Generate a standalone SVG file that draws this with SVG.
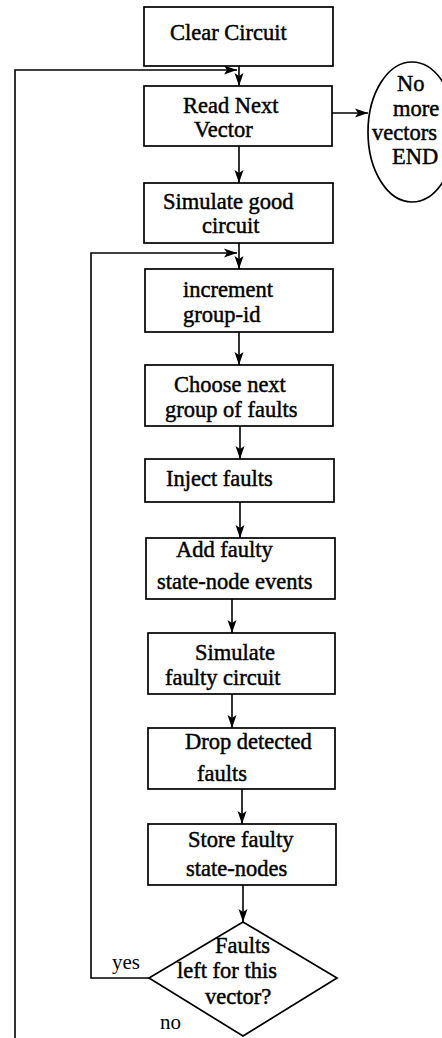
<svg xmlns="http://www.w3.org/2000/svg" width="442" height="1038" viewBox="0 0 442 1038">
<style>
.box{fill:#fff;stroke:#000;stroke-width:1.7}
.ln{fill:none;stroke:#000;stroke-width:1.6}
.t{font-family:"Liberation Serif","Times New Roman",serif;font-size:22.5px;fill:#000;stroke:#000;stroke-width:0.45}
.l{font-family:"Liberation Serif","Times New Roman",serif;font-size:21px;fill:#000}
</style>
<defs>
<marker id="ah" markerWidth="14" markerHeight="10" refX="13" refY="5" orient="auto" markerUnits="userSpaceOnUse">
<path d="M0,0.5 L13,5 L0,9.5 L3,5 Z" fill="#000"/>
</marker>
</defs>
<rect width="442" height="1038" fill="#fff"/>
<g id="connectors">
<line class="ln" x1="239" y1="66" x2="239" y2="86" marker-end="url(#ah)"/>
<polyline class="ln" points="15,1038 15,70 237,70" marker-end="url(#ah)"/>
<line class="ln" x1="332" y1="113" x2="368" y2="113" marker-end="url(#ah)"/>
<line class="ln" x1="239" y1="146" x2="239" y2="183" marker-end="url(#ah)"/>
<line class="ln" x1="239" y1="243" x2="239" y2="269" marker-end="url(#ah)"/>
<polyline class="ln" points="149,978 91,978 91,253 237,253" marker-end="url(#ah)"/>
<line class="ln" x1="239" y1="332" x2="239" y2="365" marker-end="url(#ah)"/>
<line class="ln" x1="240" y1="426" x2="240" y2="459" marker-end="url(#ah)"/>
<line class="ln" x1="240" y1="502" x2="240" y2="538" marker-end="url(#ah)"/>
<line class="ln" x1="232" y1="599" x2="232" y2="633" marker-end="url(#ah)"/>
<line class="ln" x1="232" y1="694" x2="232" y2="728" marker-end="url(#ah)"/>
<line class="ln" x1="242" y1="789" x2="242" y2="824" marker-end="url(#ah)"/>
<line class="ln" x1="243" y1="885" x2="243" y2="922" marker-end="url(#ah)"/>
<text class="l" x="112" y="969">yes</text>
<text class="l" x="160" y="1029">no</text>
</g>
<g id="clear">
<rect class="box" x="144" y="7" width="189" height="59"/>
<text class="t" x="170" y="40">Clear Circuit</text>
</g>
<g id="read">
<rect class="box" x="144" y="86" width="188" height="60"/>
<text class="t" x="183" y="113">Read Next</text>
<text class="t" x="194" y="137">Vector</text>
</g>
<g id="end">
<ellipse class="box" cx="412" cy="132" rx="44" ry="70"/>
<text class="t" x="397" y="91">No</text>
<text class="t" x="393" y="116">more</text>
<text class="t" x="372" y="140">vectors</text>
<text class="t" x="392" y="164">END</text>
</g>
<g id="simgood">
<rect class="box" x="144" y="183" width="189" height="60"/>
<text class="t" x="163" y="209">Simulate good</text>
<text class="t" x="202" y="233">circuit</text>
</g>
<g id="incr">
<rect class="box" x="145" y="269" width="188" height="63"/>
<text class="t" x="183" y="297">increment</text>
<text class="t" x="183" y="322">group-id</text>
</g>
<g id="choose">
<rect class="box" x="145" y="365" width="188" height="61"/>
<text class="t" x="174" y="392">Choose next</text>
<text class="t" x="165" y="417">group of faults</text>
</g>
<g id="inject">
<rect class="box" x="145" y="459" width="189" height="43"/>
<text class="t" x="166" y="486">Inject faults</text>
</g>
<g id="addfaulty">
<rect class="box" x="146" y="538" width="189" height="61"/>
<text class="t" x="176" y="557">Add faulty</text>
<text class="t" x="157" y="589">state-node events</text>
</g>
<g id="simfaulty">
<rect class="box" x="148" y="633" width="187" height="61"/>
<text class="t" x="195" y="660">Simulate</text>
<text class="t" x="165" y="685">faulty circuit</text>
</g>
<g id="drop">
<rect class="box" x="148" y="728" width="187" height="61"/>
<text class="t" x="185" y="749">Drop detected</text>
<text class="t" x="197" y="781">faults</text>
</g>
<g id="store">
<rect class="box" x="148" y="824" width="188" height="61"/>
<text class="t" x="188" y="847">Store faulty</text>
<text class="t" x="186" y="876">state-nodes</text>
</g>
<g id="decision">
<polygon class="box" points="243,922 337,978 243,1036 149,978"/>
<text class="t" x="215" y="953">Faults</text>
<text class="t" x="177" y="978">left for this</text>
<text class="t" x="205" y="1004">vector?</text>
</g>
</svg>
